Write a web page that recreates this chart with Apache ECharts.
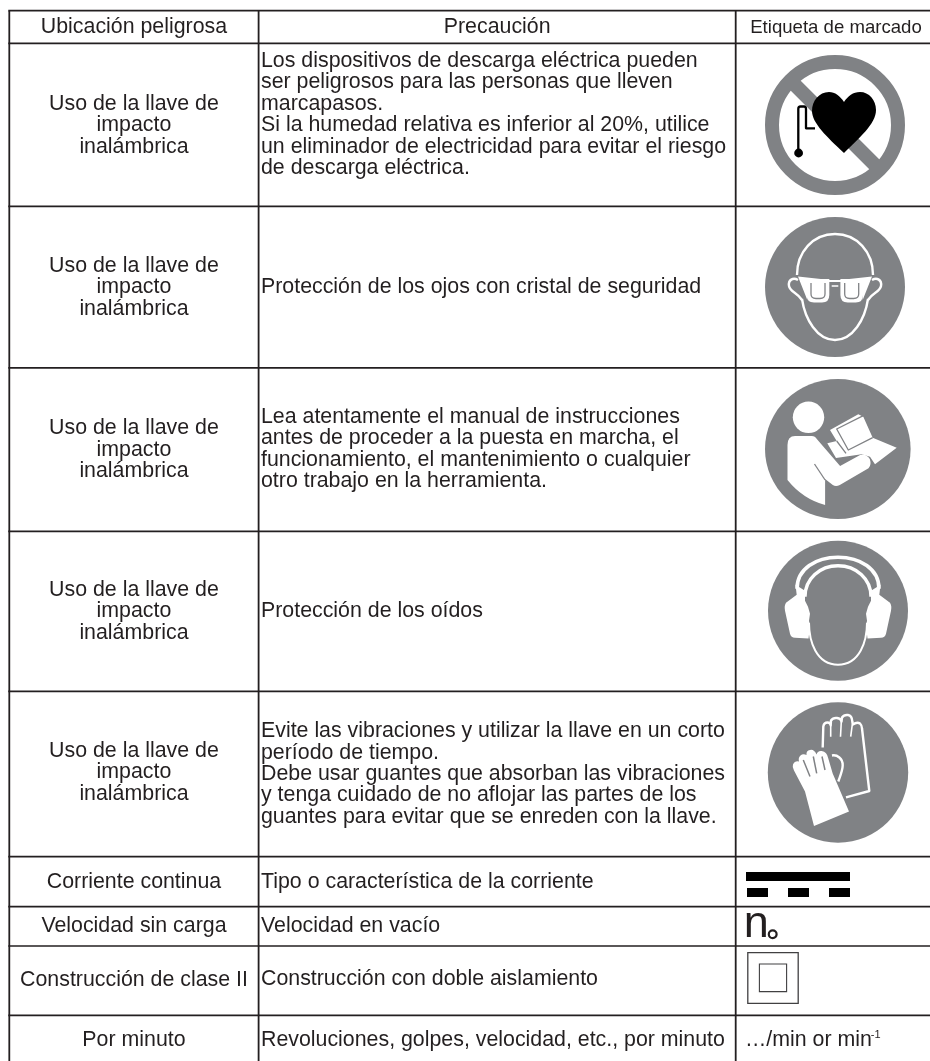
<!DOCTYPE html>
<html>
<head>
<meta charset="utf-8">
<style>html,body{margin:0;padding:0;background:#fff}#c{width:930px;height:1061px}</style>
<script src="https://cdn.jsdelivr.net/npm/echarts@6/dist/echarts.min.js"></script>
</head>
<body>
<div id="c"></div>
<script>
// ---- table content ----
const headers = ['Ubicación peligrosa', 'Precaución', 'Etiqueta de marcado'];
const impact = ['Uso de la llave de', 'impacto', 'inalámbrica'];
const hazards = [impact, impact, impact, impact, impact,
  ['Corriente continua'], ['Velocidad sin carga'], ['Construcción de clase II'], ['Por minuto']];
const precautions = [
  ['Los dispositivos de descarga eléctrica pueden', 'ser peligrosos para las personas que lleven', 'marcapasos.',
   'Si la humedad relativa es inferior al 20%, utilice', 'un eliminador de electricidad para evitar el riesgo', 'de descarga eléctrica.'],
  ['Protección de los ojos con cristal de seguridad'],
  ['Lea atentamente el manual de instrucciones', 'antes de proceder a la puesta en marcha, el', 'funcionamiento, el mantenimiento o cualquier', 'otro trabajo en la herramienta.'],
  ['Protección de los oídos'],
  ['Evite las vibraciones y utilizar la llave en un corto', 'período de tiempo.', 'Debe usar guantes que absorban las vibraciones', 'y tenga cuidado de no aflojar las partes de los', 'guantes para evitar que se enreden con la llave.'],
  ['Tipo o característica de la corriente'],
  ['Velocidad en vacío'],
  ['Construcción con doble aislamiento'],
  ['Revoluciones, golpes, velocidad, etc., por minuto']
];
const markingIcons = ['pacemaker', 'goggles', 'manual', 'ears', 'gloves', 'dc', 'noload', 'double', 'permin'];

// ---- layout ----
const rowEdges = [10.7, 43.4, 206.3, 367.9, 531.4, 691.3, 856.7, 906.7, 946, 1015.3];
const colEdges = [9.3, 258.6, 735.7, 931];
const hazardMid = [125.6, 287.5, 449.8, 611.5, 772.5, 882.4, 926, 980, 1040];
const precautionMid = [114.7, 287, 449.3, 611, 774.1, 882, 926, 979.5, 1040];
const iconCentres = [[835, 125], [835, 287], [837.8, 449], [838, 610.7], [838, 772.5]];
const INK = '#231f20', GREY = '#808285', FONT = '"Liberation Sans", Arial, sans-serif';
const BODY_SIZE = 21.35;

// ---- icon outlines, relative to the icon centre ----
const outlines = {
  heart: 'M9 -23 C5 -29 0 -33 -6 -33 C-16 -33 -23 -24 -23 -14 C-23 -2 -8 12 9 28 C24 13 41 -1 41 -15 C41 -25 34 -33 25 -33 C18 -33 13 -29 9 -23 Z',
  lead: 'M-20 3.3 L-29 3.3 L-29 -16 Q-29 -18.5 -31 -18.5 L-34.5 -18.5 Q-36.7 -18.5 -36.7 -16 L-36.7 27',
  goggleBand: 'M-37 -10.5 L-5 -7 L5 -7 L37 -10.5 L27.7 13 L27 -6 L5 -5 L-5 -5 L-27 -6 L-27.7 13 Z',
  goggleLensL: 'M-28.3 -8 L-5.7 -8 L-5.7 8 Q-5.7 15.5 -13 15.5 L-21 15.5 Q-28.3 15.5 -28.3 8 Z',
  goggleLensR: 'M5.4 -8 L28 -8 L28 8 Q28 15.5 20.7 15.5 L12.7 15.5 Q5.4 15.5 5.4 8 Z',
  goggleInnerL: 'M-24 -4 L-24 7 Q-24 11.5 -19 11.5 L-15 11.5 Q-10 11.5 -10 7 L-10 -4',
  goggleInnerR: 'M9.7 -4 L9.7 7 Q9.7 11.5 14.7 11.5 L18.7 11.5 Q23.7 11.5 23.7 7 L23.7 -4',
  headTop: 'M-38 -12 C-38 -35 -22 -53 0 -53 C22 -53 38 -35 38 -12',
  jaw: 'M-33 12 C-30 32 -18 53 0 53 C18 53 30 32 33 12',
  earL: 'M-37 -7 C-42 -10 -47 -7 -46 -1 C-45 5 -38 5 -33 13',
  earR: 'M37 -7 C42 -10 47 -7 46 -1 C45 5 38 5 33 13',
  bridge: 'M-3.3 -6 L3.3 -6 M-3.3 -1 L3.3 -1',
  body: 'M-50.3 -4 Q-50.3 -13 -42.7 -13 L-26 -13 Q-22.7 -13 -21 -10 L2.3 17 L22.3 6 Q28 4 32 10 Q34 16 30.7 19.3 L2 36 Q-2 38 -5 36 L-12.7 30 L-12.7 56 Q-35 50 -50.3 31 Z',
  bodyNotch: 'M-23.3 15 L-12.7 31',
  book: 'M-7.8 -19 L20.5 -34.7 L25.5 -32.3 L34.9 -11.3 L58.9 -1.3 L37.2 15.3 L32.2 7.7 L23.9 5.3 L-1.8 9 L-10.5 -5.7 L-1.1 -8 Z',
  bookLines: 'M25.5 -33.3 L-1.1 -20 L10.5 1 L34.9 -11.3 M-1.1 -8 L8.2 4.3',
  bandOuter: 'M-41 -22 C-41 -42 -22 -53.5 0 -53.5 C22 -53.5 41 -42 41 -22',
  bandInner: 'M-33 -14 C-33 -32 -18 -45 0 -45 C18 -45 33 -32 33 -14',
  cupL: 'M-42.5 -26 L-41.3 -16 L-52 -8 Q-54 -5 -53 0 L-48 23 Q-47 27 -43 27 L-29.5 27.7 L-28 16 L-29 10 L-28 3 L-30 -4 L-33 -10 L-33 -20 Z',
  cupR: 'M42.5 -26 L41.3 -16 L52 -8 Q54 -5 53 0 L48 23 Q47 27 43 27 L29.5 27.7 L28 16 L29 10 L28 3 L30 -4 L33 -10 L33 -20 Z',
  jawEars: 'M-29 12 C-29 30 -22 54 0 54 C22 54 29 30 29 12',
  gloveBack: 'M-15.3 -25 L-14.7 -46 Q-14 -50 -10.5 -50 Q-7.5 -50 -7.3 -47 L-7 -52 Q-5 -55 -1 -54.5 Q3 -54 3.5 -51 L4 -55 Q6 -58 10 -57.5 Q14 -57 14.3 -51 L14.8 -48 Q19 -51 22 -49 Q24 -47 24 -44 L31.3 18.5 L8 24.8',
  gloveSep: 'M-7.3 -47 L-7.3 -35.8 M3.3 -51 L2.5 -35.8 M14.3 -48 L12.7 -35.8',
  gloveThumb: 'M-6 -17 C-1 -18 5 -14 4.7 -7 C4.6 -2 2 4 0.3 9',
  gloveFront: 'M-24 53.5 L11 39 L-5.3 1 L-9.7 -14 Q-11 -21 -16.3 -21.5 Q-20.5 -22 -21.5 -18 Q-24 -23.5 -28 -22.5 Q-32 -22 -31.5 -17.5 Q-35 -19 -37.5 -17 Q-40 -15 -39 -11 Q-43 -12 -45 -8 Q-46 -5.5 -44 -2 L-33 19 Z',
  gloveFrontSep: 'M-34.7 -12.5 L-28 4 M-24.7 -16 L-21.3 0.8 M-16 -16 L-13 -2.5'
};
Object.keys(outlines).forEach(function (k) {
  echarts.graphic.registerShape(k, echarts.graphic.extendPath(outlines[k]));
});

function fillP(name, fill) { return { type: name, style: { fill: fill, stroke: null } }; }
function strokeP(name, color, lw) { return { type: name, style: { fill: null, stroke: color, lineWidth: lw, lineCap: 'butt', lineJoin: 'round' } }; }
function disc(rx, ry) { return { type: 'ellipse', shape: { cx: 0, cy: 0, rx: rx, ry: ry || rx }, style: { fill: GREY } }; }

const iconParts = {
  pacemaker: function () { return [
    { type: 'circle', shape: { cx: 0, cy: 0, r: 63 }, style: { fill: '#fff', stroke: GREY, lineWidth: 14 } },
    { type: 'line', shape: { x1: -45, y1: -45, x2: 45, y2: 45 }, style: { stroke: GREY, lineWidth: 14 } },
    strokeP('lead', '#000', 2.3),
    { type: 'circle', shape: { cx: -36.4, cy: 28, r: 4.4 }, style: { fill: '#000' } },
    fillP('heart', '#000')
  ]; },
  goggles: function () { return [
    disc(70),
    strokeP('headTop', '#fff', 2.4), strokeP('jaw', '#fff', 2.4),
    strokeP('earL', '#fff', 2.4), strokeP('earR', '#fff', 2.4),
    fillP('goggleBand', '#fff'),
    fillP('goggleLensL', '#fff'), fillP('goggleLensR', '#fff'),
    strokeP('goggleInnerL', GREY, 1.3), strokeP('goggleInnerR', GREY, 1.3),
    strokeP('bridge', '#fff', 1.5)
  ]; },
  manual: function () { return [
    disc(72.8, 70),
    { type: 'circle', shape: { cx: -29.3, cy: -31.7, r: 15.7 }, style: { fill: '#fff' } },
    fillP('book', '#fff'), strokeP('bookLines', GREY, 1.3),
    fillP('body', '#fff'), strokeP('bodyNotch', GREY, 1.3)
  ]; },
  ears: function () { return [
    disc(70),
    strokeP('bandOuter', '#fff', 3.6), strokeP('bandInner', '#fff', 3.4),
    fillP('cupL', '#fff'), fillP('cupR', '#fff'),
    strokeP('jawEars', '#fff', 2)
  ]; },
  gloves: function () { return [
    disc(70.2),
    strokeP('gloveBack', '#fff', 2.4), strokeP('gloveSep', '#fff', 1.6),
    strokeP('gloveThumb', '#fff', 2.4),
    fillP('gloveFront', '#fff'), strokeP('gloveFrontSep', GREY, 1.5)
  ]; }
};

function textEl(api, str, x, y, align, size) {
  const p = api.coord([x, y]);
  return { type: 'text', style: { text: str, x: p[0], y: p[1], fill: INK,
    font: (size || BODY_SIZE) + 'px ' + FONT, align: align, verticalAlign: 'middle' } };
}
function boxEl(api, x0, y0, x1, y1, fill) {
  const a = api.coord([x0, y0]), b = api.coord([x1, y1]);
  return { type: 'rect', shape: { x: a[0], y: a[1], width: b[0] - a[0], height: b[1] - a[1] }, style: { fill: fill } };
}
function outlineBox(api, x0, y0, x1, y1, color, lw) {
  const a = api.coord([x0, y0]), b = api.coord([x1, y1]);
  return { type: 'rect', shape: { x: a[0], y: a[1], width: b[0] - a[0], height: b[1] - a[1] },
    style: { fill: null, stroke: color, lineWidth: lw } };
}

function smallSymbol(api, name) {
  if (name === 'dc') return [
    boxEl(api, 746, 872, 850, 881, '#000'),
    boxEl(api, 747, 888, 768, 897, '#000'),
    boxEl(api, 788, 888, 809, 897, '#000'),
    boxEl(api, 829, 888, 850, 897, '#000')
  ];
  if (name === 'noload') {
    const p = api.coord([772.7, 934.3]);
    return [textEl(api, 'n', 743.7, 924.4, 'left', 45),
      { type: 'circle', shape: { cx: p[0], cy: p[1], r: 3.9 }, style: { fill: null, stroke: INK, lineWidth: 2.2 } }];
  }
  if (name === 'double') return [
    outlineBox(api, 747.8, 952.6, 798.2, 1003.3, '#414042', 1.3),
    outlineBox(api, 759.4, 964, 786.6, 991.6, '#414042', 1.1)
  ];
  return [textEl(api, '…/min or min', 745, 1040, 'left'), textEl(api, '-1', 870.8, 1034.5, 'left', 11)];
}

// ---- the table as custom series on hidden pixel axes ----
const rows = hazards.map(function (_, i) { return [i]; });

const option = {
  animation: false,
  backgroundColor: '#fff',
  grid: { left: 0, right: 0, top: 0, bottom: 0 },
  xAxis: { type: 'value', min: 0, max: 930, show: false },
  yAxis: { type: 'value', min: 0, max: 1061, inverse: true, show: false },
  series: [
    { // grid rules
      type: 'custom', silent: true, clip: false, coordinateSystem: 'cartesian2d',
      data: [[0]], encode: { x: 0 },
      renderItem: function (params, api) {
        const kids = [];
        rowEdges.forEach(function (y) {
          const a = api.coord([colEdges[0] - 1, y]), b = api.coord([colEdges[3], y]);
          kids.push({ type: 'line', shape: { x1: a[0], y1: a[1], x2: b[0], y2: b[1] }, style: { stroke: INK, lineWidth: 1.7 } });
        });
        colEdges.slice(0, -1).forEach(function (x) {
          const a = api.coord([x, rowEdges[0]]), b = api.coord([x, 1061]);
          kids.push({ type: 'line', shape: { x1: a[0], y1: a[1], x2: b[0], y2: b[1] }, style: { stroke: INK, lineWidth: 1.8 } });
        });
        return { type: 'group', children: kids };
      }
    },
    { // header row
      type: 'custom', silent: true, clip: false,
      data: [[0]], encode: { x: 0 },
      renderItem: function (params, api) {
        const y = 27.6;
        return { type: 'group', children: [
          textEl(api, headers[0], (colEdges[0] + colEdges[1]) / 2, y, 'center'),
          textEl(api, headers[1], (colEdges[1] + colEdges[2]) / 2, y, 'center'),
          textEl(api, headers[2], 836, y, 'center', 18.6)
        ] };
      }
    },
    { // body rows
      type: 'custom', silent: true, clip: false,
      data: rows, encode: { x: 0 },
      renderItem: function (params, api) {
        const i = params.dataIndex, kids = [], lh = 21.2, lh2 = 21.4;
        const xm = (colEdges[0] + colEdges[1]) / 2;
        hazards[i].forEach(function (s, k) {
          kids.push(textEl(api, s, xm, hazardMid[i] + (k - (hazards[i].length - 1) / 2) * lh, 'center'));
        });
        precautions[i].forEach(function (s, k) {
          kids.push(textEl(api, s, 261, precautionMid[i] + (k - (precautions[i].length - 1) / 2) * lh2, 'left'));
        });
        const icon = markingIcons[i];
        if (iconParts[icon]) {
          const c = api.coord(iconCentres[i]);
          kids.push({ type: 'group', x: c[0], y: c[1], children: iconParts[icon]() });
        } else {
          smallSymbol(api, icon).forEach(function (e) { kids.push(e); });
        }
        return { type: 'group', children: kids };
      }
    }
  ]
};
const chart = echarts.init(document.getElementById('c'), null, { renderer: 'canvas' });
chart.setOption(option);
</script>
</body>
</html>
